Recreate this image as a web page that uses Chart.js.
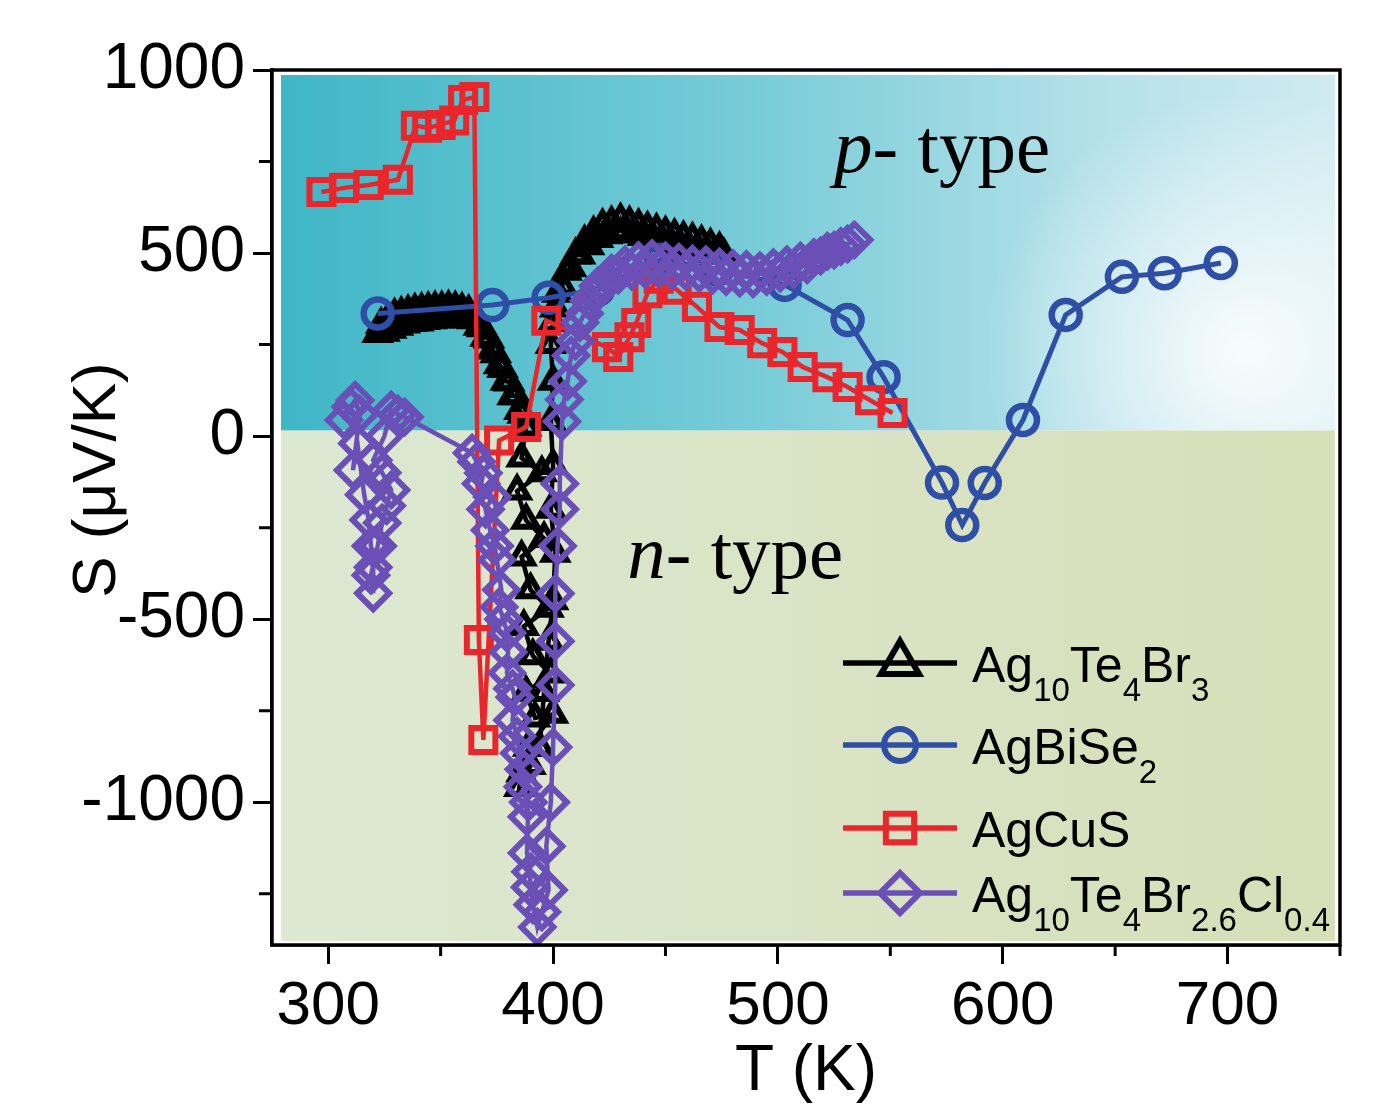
<!DOCTYPE html>
<html>
<head>
<meta charset="utf-8">
<script src="https://cdn.jsdelivr.net/npm/chart.js@4.4.1/dist/chart.umd.min.js"></script>
<style>
  html, body { margin: 0; padding: 0; background: #fff; }
  #wrap { width: 1377px; height: 1116px; }
</style>
</head>
<body>
<div id="wrap"><canvas id="myChart" width="1377" height="1116"></canvas></div>
<script>
// ---- data ----
const blackT = [322, 323.5, 325, 326.5, 328, 329.5, 331, 332.5, 334, 335.5, 337, 338.5, 340, 341.5, 343, 344.5, 346, 347.5, 349, 350.5,
  352, 353.5, 355, 356.5, 358, 359.5, 361, 362.5, 364,
  365.5, 367, 368.5, 370, 371.5, 373, 374.5, 376, 377.5, 379, 380.5, 382, 383.5, 385, 386.5, 388,
  386, 395, 384, 388, 396, 386, 390, 398, 387, 391, 399, 388, 392, 400, 389, 386, 385,
  390, 394, 396, 398, 400, 401, 399, 400, 399, 400, 399, 400,
  401, 402, 404, 406, 408, 410, 412, 414, 416, 418, 420, 422, 424, 426, 428, 430, 432, 434, 436, 438,
  440, 442, 444, 446, 448, 450, 452, 454, 456, 458, 460, 462, 464, 466, 468, 470, 472, 474, 476];
const blackS = [280, 305, 284, 318, 292, 330, 300, 335, 306, 340, 310, 344, 312, 346, 316, 348, 318, 350, 320, 350,
  322, 352, 324, 350, 322, 346, 320, 340, 318,
  322, 300, 296, 270, 265, 235, 225, 195, 185, 150, 148, 110, 110, 70, 60, 25,
  -60, -100, -150, -230, -280, -330, -420, -470, -520, -600, -650, -700, -770, -760, -850, -920, -960,
  -900, -850, -700, -560, -450, -320, -200, -80, 40, 150, 250, 310,
  350, 390, 410, 450, 460, 495, 495, 530, 520, 555, 540, 575, 550, 582, 560, 590, 560, 582, 552, 575,
  545, 568, 540, 562, 532, 555, 528, 548, 522, 542, 515, 538, 510, 530, 505, 522, 498, 512, 495];

const blueT = [322, 373, 398, 420, 448, 473, 503, 531, 547, 573, 582, 592, 609, 628, 653, 672, 697];
const blueS = [335, 358, 378, 400, 482, 455, 413, 317, 161, -127, -243, -128, 44, 331, 435, 445, 473];

const redT = [297, 307, 318, 331, 339, 344, 350, 356, 360, 365, 367, 369, 376, 388, 397,
  424, 429, 434, 437, 442, 447, 455, 464, 474, 483, 493, 502, 511, 522, 531, 541, 551];
const redS = [667, 678, 686, 700, 848, 842, 850, 862, 918, 926, -557, -830, -12, 25, 315,
  243, 216, 270, 309, 390, 430, 400, 353, 298, 290, 254, 230, 189, 161, 134, 98, 63];

const purpleT = [307, 310, 312, 314, 311, 313, 316, 318, 319, 320, 320, 319, 322, 324, 326, 328, 324, 320, 325, 328, 331, 334,
  364, 366, 369, 368, 373, 370, 372, 374, 375, 377, 376, 378, 379.5, 380, 379.5, 382, 383, 382, 384, 385, 386.6, 387,
  388.4, 389, 388.4, 390, 389.8, 391, 393,
  395, 398, 397, 399, 400, 401, 401, 401, 402, 403, 403, 404,
  405, 406.5, 408, 410, 412, 414, 416, 418, 420, 423, 426, 429, 432, 435, 438, 441, 444, 447, 450, 453,
  456, 459, 462, 465, 468, 471, 474, 477, 480, 483, 486, 489, 492, 495, 498, 501, 504, 507, 510, 513,
  516, 519, 522, 525, 528, 531, 534];
const purpleS = [44, 80, 98, 60, -93, -20, -160, -229, -300, -358, -429, -380, -300, -237, -190, -147, -100, -66, 0, 71, 60, 52,
  -46, -70, -101, -130, -166, -200, -257, -300, -338, -420, -467, -500, -538, -590, -647, -690, -713, -776, -820, -866, -958, -910,
  -1040, -1000, -1139, -1190, -1232, -1280, -1341,
  -1300, -1240, -1120, -1000, -850, -680, -560, -430, -300, -200, -130, 40,
  100, 150, 220, 260, 310, 335, 370, 385, 410, 415, 445, 440, 468, 450, 480, 455, 485, 458, 478, 452,
  475, 450, 470, 445, 468, 440, 462, 436, 458, 432, 455, 430, 452, 436, 460, 445, 468, 455, 478, 468,
  488, 492, 505, 508, 518, 525, 536];

const xTicks = [300, 400, 500, 600, 700];
const yTicks = [-1000, -500, 0, 500, 1000];
const splitS = 15;   // where the p / n shading meets

function pts(xs, ys) {
  return xs.map(function (x, i) { return { x: x, y: ys[i] }; });
}

const SANS = '"Liberation Sans", Arial, Helvetica, sans-serif';
const SERIF = '"Liberation Serif", "Times New Roman", serif';
Chart.defaults.font.family = SANS;
Chart.defaults.color = '#000';

const series = [
  { name: [['Ag', 0], ['10', 1], ['Te', 0], ['4', 1], ['Br', 0], ['3', 1]], color: '#000000', style: 'triangle', lr: 22, lw: 6 },
  { name: [['AgBiSe', 0], ['2', 1]], color: '#2f4ea6', style: 'circle', lr: 16, lw: 6 },
  { name: [['AgCuS', 0]], color: '#e8262b', style: 'rect', lr: 20, lw: 6 },
  { name: [['Ag', 0], ['10', 1], ['Te', 0], ['4', 1], ['Br', 0], ['2.6', 1], ['Cl', 0], ['0.4', 1]], color: '#6a4fb6', style: 'rectRot', lr: 20, lw: 6 }
];
const legendRows = [663, 745, 828, 893];

const bgPlugin = {
  id: 'bg',
  beforeDatasetsDraw(chart) {
    const ctx = chart.ctx, a = chart.chartArea, x = chart.scales.x, y = chart.scales.y;
    const y0 = y.getPixelForValue(splitS);
    const l = a.left + 9, r = a.right - 5, t = a.top + 5, b = a.bottom - 4;
    ctx.save();
    ctx.fillStyle = '#fff';
    ctx.fillRect(a.left, a.top, a.width, a.height);
    let g = ctx.createLinearGradient(l, 0, r, 0);
    g.addColorStop(0, '#3fb6c6');
    g.addColorStop(0.45, '#78ccd8');
    g.addColorStop(0.75, '#b0dfe8');
    g.addColorStop(1, '#d0ebf1');
    ctx.fillStyle = g;
    ctx.fillRect(l, t, r - l, y0 - t);
    const rg = ctx.createRadialGradient(r - 90, y0 - 80, 10, r - 90, y0 - 80, 260);
    rg.addColorStop(0, 'rgba(255,255,255,0.85)');
    rg.addColorStop(1, 'rgba(255,255,255,0)');
    ctx.fillStyle = rg;
    ctx.fillRect(l, t, r - l, y0 - t);
    g = ctx.createLinearGradient(l, 0, r, 0);
    g.addColorStop(0, '#dce8d2');
    g.addColorStop(1, '#d7dfb8');
    ctx.fillStyle = g;
    ctx.fillRect(l, y0, r - l, b - y0);

    // p / n labels
    ctx.fillStyle = '#000';
    ctx.textBaseline = 'alphabetic';
    function typeLabel(letter, tx, sy) {
      const px = x.getPixelForValue(tx), py = y.getPixelForValue(sy);
      ctx.font = 'italic 77px ' + SERIF;
      ctx.fillText(letter, px, py);
      const w = ctx.measureText(letter).width;
      ctx.font = '77px ' + SERIF;
      ctx.fillText('- type', px + w, py);
    }
    typeLabel('p', 525, 721);
    typeLabel('n', 433, -388);
    ctx.restore();
  }
};

const framePlugin = {
  id: 'frame',
  afterDraw(chart) {
    const ctx = chart.ctx, a = chart.chartArea, x = chart.scales.x, y = chart.scales.y;
    ctx.save();
    ctx.strokeStyle = '#000';
    ctx.lineWidth = 3;
    ctx.beginPath();
    x.ticks.forEach(function (t) {
      if (t.value % 100 !== 0) {
        const px = x.getPixelForValue(t.value);
        ctx.moveTo(px, a.bottom);
        ctx.lineTo(px, a.bottom + 11);
      }
    });
    y.ticks.forEach(function (t) {
      if (t.value % 500 !== 0) {
        const py = y.getPixelForValue(t.value);
        ctx.moveTo(a.left, py);
        ctx.lineTo(a.left - 13, py);
      }
    });
    ctx.stroke();
    ctx.lineWidth = 3.5;
    ctx.strokeRect(a.left, a.top, a.width, a.height);

    // y axis title
    ctx.save();
    ctx.translate(98, 480);
    ctx.rotate(-Math.PI / 2);
    ctx.font = '62px ' + SANS;
    ctx.textAlign = 'center';
    ctx.textBaseline = 'middle';
    ctx.fillStyle = '#000';
    ctx.fillText('S (\u03bcV/K)', 0, 0);
    ctx.restore();

    // legend
    series.forEach(function (s, i) {
      const ly = legendRows[i];
      ctx.strokeStyle = s.color;
      ctx.lineWidth = 5.5;
      ctx.beginPath();
      ctx.moveTo(843, ly);
      ctx.lineTo(957, ly);
      ctx.stroke();
      ctx.fillStyle = 'rgba(0,0,0,0)';
      ctx.lineWidth = s.lw;
      Chart.helpers.drawPoint(ctx, { pointStyle: s.style, radius: s.lr, rotation: 0, borderWidth: s.lw }, 900, ly);
      let tx = 972;
      ctx.fillStyle = '#000';
      ctx.textAlign = 'left';
      ctx.textBaseline = 'alphabetic';
      s.name.forEach(function (part) {
        if (part[1]) {
          ctx.font = '33px ' + SANS;
          ctx.fillText(part[0], tx, ly + 38);
        } else {
          ctx.font = '50px ' + SANS;
          ctx.fillText(part[0], tx, ly + 19);
        }
        tx += ctx.measureText(part[0]).width;
      });
    });
    ctx.restore();
  }
};

function ds(label, xs, ys, color, style, r, bw, lw, order) {
  return {
    label: label,
    data: pts(xs, ys),
    showLine: true,
    borderColor: color,
    borderWidth: lw,
    pointStyle: style,
    pointRadius: r,
    pointBorderColor: color,
    pointBorderWidth: bw,
    pointBackgroundColor: 'rgba(0,0,0,0)',
    tension: 0,
    fill: false,
    order: order
  };
}

new Chart(document.getElementById('myChart'), {
  type: 'scatter',
  data: {
    datasets: [
      ds('Ag10Te4Br3', blackT, blackS, '#000000', 'triangle', 13, 6, 4.5, 4),
      ds('AgBiSe2', blueT, blueS, '#2f4ea6', 'circle', 14, 6.5, 5, 3),
      ds('AgCuS', redT, redS, '#e8262b', 'rect', 17, 6, 4.5, 2),
      ds('Ag10Te4Br2.6Cl0.4', purpleT, purpleS, '#6a4fb6', 'rectRot', 16, 6, 4.5, 1)
    ]
  },
  options: {
    responsive: false,
    animation: false,
    events: [],
    layout: { padding: { top: 70, right: 37, left: 0, bottom: 0 } },
    plugins: { legend: { display: false }, tooltip: { enabled: false } },
    scales: {
      x: {
        type: 'linear',
        min: 275,
        max: 750,
        afterFit: function (s) { s.height = 1116 - 945; },
        ticks: {
          stepSize: 50,
          includeBounds: false,
          autoSkip: false,
          maxRotation: 0,
          padding: 6,
          font: { size: 62 },
          callback: function (v) { return xTicks.indexOf(v) >= 0 ? String(v) : ''; }
        },
        grid: {
          drawOnChartArea: false,
          drawTicks: true,
          tickLength: 19,
          tickWidth: 3,
          tickColor: function (c) { return (c.tick && c.tick.value % 100 === 0) ? '#000' : 'rgba(0,0,0,0)'; }
        },
        border: { display: true, color: '#000', width: 3.5 },
        title: { display: true, text: 'T (K)', font: { size: 64 }, padding: { top: 0, bottom: 5 } }
      },
      y: {
        type: 'linear',
        min: -1390,
        max: 1000,
        afterFit: function (s) { s.width = 272; },
        ticks: {
          stepSize: 250,
          includeBounds: false,
          autoSkip: false,
          padding: 8,
          font: { size: 64 },
          callback: function (v) { return yTicks.indexOf(v) >= 0 ? String(v) : ''; }
        },
        grid: {
          drawOnChartArea: false,
          drawTicks: true,
          tickLength: 19,
          tickWidth: 3,
          tickColor: function (c) { return (c.tick && c.tick.value % 500 === 0) ? '#000' : 'rgba(0,0,0,0)'; }
        },
        border: { display: true, color: '#000', width: 3.5 }
      }
    }
  },
  plugins: [bgPlugin, framePlugin]
});
</script>
</body>
</html>
